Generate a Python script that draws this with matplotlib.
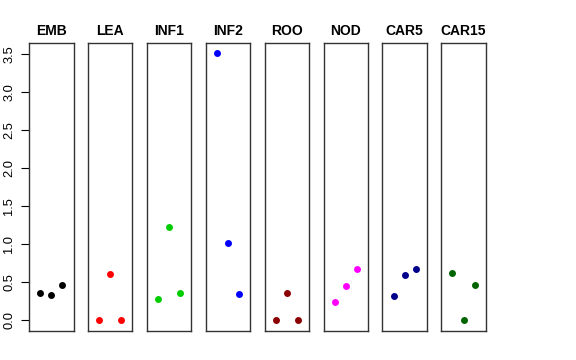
import matplotlib
matplotlib.use("Agg")
import matplotlib.pyplot as plt

groups = ['EMB', 'LEA', 'INF1', 'INF2', 'ROO', 'NOD', 'CAR5', 'CAR15']
colours = ['black', 'red', '#00CD00', 'blue', '#8B0000', 'magenta', '#00008B', '#006400']
values = [
    [0.36, 0.33, 0.46],
    [0.00, 0.61, 0.00],
    [0.28, 1.23, 0.36],
    [3.51, 1.02, 0.34],
    [0.00, 0.355, 0.00],
    [0.24, 0.45, 0.67],
    [0.325, 0.60, 0.68],
    [0.62, 0.00, 0.46],
]
yticks = [0.0, 0.5, 1.0, 1.5, 2.0, 2.5, 3.0, 3.5]

plt.rcParams['font.family'] = ['Liberation Sans', 'DejaVu Sans']

fig = plt.figure(figsize=(5.76, 3.6), dpi=100)
W, H = 576.0, 360.0
for i in range(len(groups)):
    left = 29 + i * 58.9
    ax = fig.add_axes([left / W, 1 - 331 / H, 44.5 / W, 288 / H])
    ax.plot([1, 2, 3], values[i], 'o', color=colours[i], markersize=5, markeredgewidth=0)
    ax.set_xlim(0, 4)
    ax.set_ylim(-0.14, 3.64)
    ax.set_xticks([])
    ax.set_title(groups[i], fontsize=10, fontweight='bold', pad=6)
    for s in ax.spines.values():
        s.set_color('#333333')
        s.set_linewidth(1)
    if i == 0:
        ax.set_yticks(yticks)
        ax.set_yticklabels(['%.1f' % t for t in yticks], rotation=90, va='center', fontsize=9.3)
        ax.tick_params(axis='y', length=6, width=0.8, pad=4)
    else:
        ax.set_yticks([])

fig.savefig('out.png', dpi=100)
